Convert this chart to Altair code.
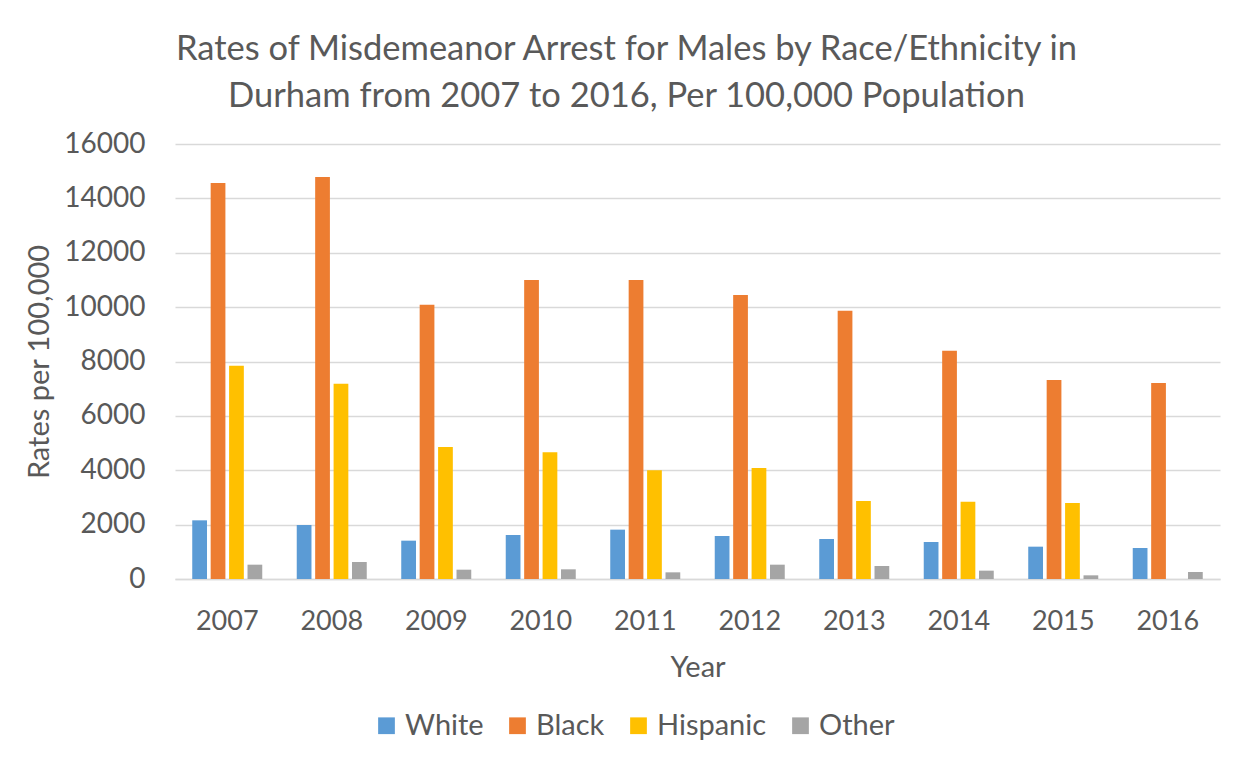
import altair as alt
import pandas as pd

years = ["2007", "2008", "2009", "2010", "2011", "2012", "2013", "2014", "2015", "2016"]
white = [2158, 1986, 1410, 1618, 1815, 1582, 1471, 1361, 1189, 1140]
black = [14566, 14786, 10090, 10998, 10998, 10446, 9870, 8398, 7320, 7209]
hispanic = [7847, 7185, 4855, 4659, 3997, 4083, 2869, 2844, 2795, None]
other = [527, 625, 343, 356, 245, 527, 478, 307, 135, 257]

groups = ["White", "Black", "Hispanic", "Other"]
colors = ["#5B9BD5", "#ED7D31", "#FFC000", "#A5A5A5"]

rows = []
for i, y in enumerate(years):
    for g, vals in zip(groups, [white, black, hispanic, other]):
        if vals[i] is not None:
            rows.append({"Year": y, "Group": g, "Rate": vals[i]})
df = pd.DataFrame(rows)

TXT = "#595959"
FONT = "Lato"

chart = alt.Chart(df).mark_bar().encode(
    x=alt.X("Year:N", sort=years,
            scale=alt.Scale(paddingInner=0.33, paddingOuter=0.165),
            axis=alt.Axis(title="Year", labelAngle=0, ticks=False,
                          domainColor="#D9D9D9", domainWidth=1.3,
                          labelFontSize=27,
                          labelPadding=29, titlePadding=19)),
    xOffset=alt.XOffset("Group:N", sort=groups,
                        scale=alt.Scale(paddingInner=0.2, paddingOuter=0)),
    y=alt.Y("Rate:Q", scale=alt.Scale(domain=[0, 16000]),
            axis=alt.Axis(title="Rates per 100,000", values=list(range(0, 16001, 2000)),
                          format="d", ticks=False, domain=False,
                          gridColor="#D9D9D9", gridWidth=1.3,
                          labelFontSize=28,
                          labelPadding=30, titlePadding=9)),
    color=alt.Color("Group:N", sort=groups,
                    scale=alt.Scale(domain=groups, range=colors),
                    legend=alt.Legend(title=None, orient="none", direction="horizontal",
                                      legendX=197, legendY=567,
                                      symbolType="square", symbolSize=280,
                                      symbolStrokeWidth=0, columnPadding=19,
                                      labelFontSize=29, labelColor=TXT, labelFont=FONT)),
).properties(
    width=1045,
    height=435,
    title=alt.TitleParams(
        text=["Rates of Misdemeanor Arrest for Males by Race/Ethnicity in",
              "Durham from 2007 to 2016, Per 100,000 Population"],
        fontSize=34.5, font=FONT, color=TXT, fontWeight="normal",
        anchor="middle", frame="group", dx=-71, offset=16, lineHeight=47),
    autosize=alt.AutoSizeParams(type="none"),
    padding={"left": 167, "top": 136, "right": 24, "bottom": 180},
).configure_view(
    stroke=None
).configure_axis(
    titleFontSize=29, labelColor=TXT, titleColor=TXT,
    labelFont=FONT, titleFont=FONT, titleFontWeight="normal"
)

chart.save("out.html", embed_options={"renderer": "svg", "actions": False})
